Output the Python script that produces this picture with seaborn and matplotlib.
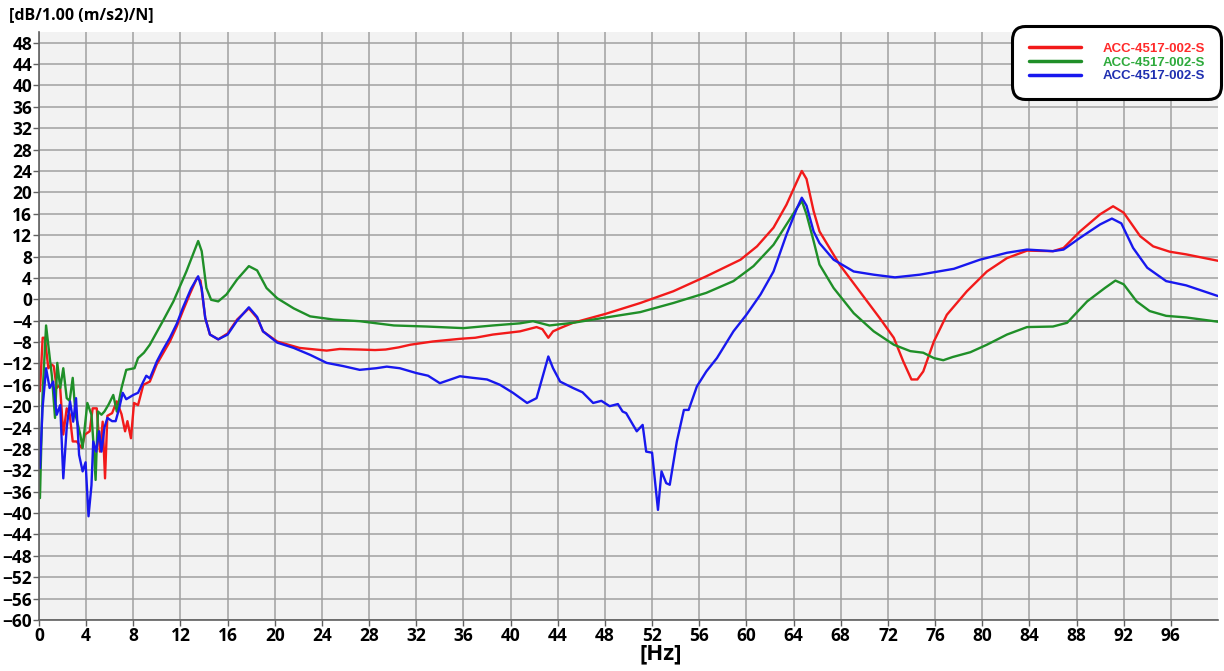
import numpy as np
import pandas as pd
import seaborn as sns
import matplotlib.pyplot as plt

# frequency response
red_hz = [0.08, 0.31, 0.5, 0.79, 1.07, 1.25, 1.5, 1.78, 2.06, 2.35, 2.6, 2.86, 3.2, 3.62, 3.9, 4.3, 4.55, 4.9,
          5.17, 5.4, 5.6, 5.8, 6.2, 6.59, 7.0, 7.3, 7.5, 7.8, 8.06, 8.4, 8.85, 9.4, 9.98, 10.5, 11.1, 11.7,
          12.2, 12.8, 13.4, 13.7, 14.1, 14.5, 15.2, 16.0, 16.8, 17.8, 18.5, 19.0, 20.2, 21.3, 22.1, 23.0,
          24.4, 25.5, 27.2, 28.5, 29.4, 30.5, 31.5, 33.4, 35.7, 37.0, 38.5, 40.8, 42.2, 42.7, 43.2, 43.6,
          44.2, 45.3, 48.1, 51.0, 53.8, 56.6, 59.5, 60.9, 62.3, 63.4, 64.3, 64.7, 65.1, 65.7, 66.2, 67.9,
          69.6, 71.3, 72.5, 73.3, 74.0, 74.5, 75.0, 75.9, 77.0, 78.7, 80.4, 82.1, 83.8, 86.0, 86.9, 88.3,
          90.0, 91.1, 92.0, 93.4, 94.5, 95.9, 97.3, 100]
red_db = [-17.2, -7.2, -7.2, -12.9, -12.2, -12.5, -16.6, -16.0, -25.3, -20.4, -21.5, -26.6, -26.6, -27.8, -25.3,
          -24.7, -20.4, -20.4, -28.5, -22.9, -33.5, -21.8, -21.3, -19.1, -21.5, -24.7, -22.8, -26.0, -19.4,
          -19.8, -16.0, -15.4, -12.2, -10.2, -7.9, -5.0, -2.2, 1.0, 4.0, 3.5, -3.5, -6.6, -7.5, -6.4, -3.8,
          -1.7, -3.5, -6.0, -7.9, -8.6, -9.1, -9.3, -9.6, -9.3, -9.4, -9.5, -9.4, -9.0, -8.5, -7.9, -7.4,
          -7.2, -6.6, -6.0, -5.2, -5.6, -7.2, -6.0, -5.4, -4.4, -2.7, -0.7, 1.5, 4.3, 7.4, 9.9, 13.4, 17.7,
          22.1, 24.0, 22.5, 16.5, 12.7, 6.5, 1.5, -3.5, -7.2, -11.6, -15.0, -15.0, -13.5, -7.9, -2.9, 1.5,
          5.2, 7.7, 9.1, 9.0, 9.6, 12.7, 15.9, 17.4, 16.2, 11.8, 9.9, 8.9, 8.4, 7.2]

green_hz = [0.08, 0.3, 0.6, 0.9, 1.1, 1.36, 1.55, 1.8, 2.06, 2.35, 2.6, 2.86, 3.1, 3.5, 3.7, 4.1, 4.45, 4.65,
            4.8, 5.0, 5.3, 5.55, 5.9, 6.3, 6.6, 7.0, 7.4, 8.1, 8.4, 8.9, 9.4, 10.5, 11.4, 12.5, 13.5, 13.8,
            14.2, 14.6, 15.2, 15.9, 16.8, 17.8, 18.5, 19.3, 20.2, 21.6, 23.0, 25.0, 27.2, 30.1, 32.9, 36.0,
            38.5, 40.8, 41.9, 43.3, 45.3, 48.1, 51.0, 53.8, 56.6, 58.9, 60.6, 62.3, 63.4, 64.3, 64.7, 65.1,
            65.7, 66.2, 67.4, 69.1, 70.8, 72.5, 73.9, 75.0, 75.9, 76.7, 77.5, 79.0, 80.4, 82.1, 83.8, 86.0,
            87.2, 88.9, 90.4, 91.3, 92.0, 93.1, 94.2, 95.6, 97.3, 100]
green_db = [-37.2, -18.0, -4.9, -10.7, -14.5, -22.2, -11.9, -16.6, -12.9, -18.5, -19.0, -14.7, -21.6, -25.3,
            -27.8, -19.4, -21.6, -28.0, -33.8, -21.0, -21.6, -21.0, -19.7, -17.9, -21.0, -16.6, -13.2, -12.9,
            -11.0, -10.0, -8.5, -4.1, -0.4, 5.2, 10.9, 9.0, 2.1, -0.1, -0.4, 0.9, 3.7, 6.2, 5.4, 2.1, 0.2,
            -1.7, -3.2, -3.8, -4.1, -4.9, -5.1, -5.4, -4.9, -4.5, -4.1, -4.9, -4.4, -3.4, -2.4, -0.7, 1.2,
            3.4, 6.2, 10.2, 14.0, 17.1, 18.4, 15.9, 10.9, 6.5, 2.1, -2.6, -6.0, -8.5, -9.7, -10.0, -11.0,
            -11.4, -10.8, -9.9, -8.5, -6.6, -5.2, -5.1, -4.4, -0.4, 2.1, 3.5, 2.8, -0.4, -2.2, -3.1, -3.4, -4.2]

blue_hz = [0.08, 0.3, 0.6, 0.9, 1.2, 1.5, 1.8, 2.06, 2.35, 2.63, 2.9, 3.14, 3.4, 3.7, 3.95, 4.2, 4.45, 4.6,
           4.85, 5.1, 5.3, 5.55, 5.8, 6.2, 6.5, 6.8, 7.1, 7.4, 8.0, 8.4, 8.85, 9.1, 9.4, 10.0, 10.5, 11.1,
           11.7, 12.2, 12.9, 13.5, 13.8, 14.1, 14.5, 15.2, 16.0, 16.8, 17.8, 18.5, 19.0, 20.2, 21.6, 23.0,
           24.4, 25.8, 27.2, 28.6, 29.5, 30.6, 32.0, 33.0, 34.0, 35.7, 36.8, 38.0, 39.1, 40.2, 41.4, 42.2,
           42.6, 43.2, 43.6, 44.2, 45.3, 46.1, 47.0, 47.7, 48.4, 49.1, 49.5, 49.8, 50.7, 51.2, 51.5, 52.0,
           52.5, 52.8, 53.2, 53.5, 54.1, 54.7, 55.1, 55.8, 56.6, 57.5, 58.9, 60.0, 61.2, 62.3, 63.4, 64.3,
           64.7, 65.1, 65.7, 66.2, 67.4, 69.1, 70.8, 72.6, 74.7, 77.6, 79.8, 82.1, 83.8, 86.0, 86.9, 88.3,
           90.0, 91.0, 91.8, 92.8, 94.0, 95.6, 97.3, 100]
blue_db = [-31.6, -20.4, -12.9, -16.6, -15.4, -21.6, -19.8, -33.5, -24.0, -19.1, -22.9, -18.5, -29.1, -32.2,
           -30.5, -40.6, -34.8, -26.6, -28.5, -24.7, -28.5, -24.0, -22.2, -22.8, -22.8, -20.4, -17.5, -18.7,
           -17.9, -17.5, -15.4, -14.3, -14.8, -11.6, -9.5, -7.2, -4.5, -1.6, 2.0, 4.3, 2.0, -3.5, -6.6, -7.5,
           -6.6, -4.0, -1.5, -3.3, -6.0, -8.1, -9.1, -10.4, -11.9, -12.5, -13.2, -12.9, -12.6, -12.9, -13.8,
           -14.3, -15.7, -14.4, -14.7, -15.0, -16.0, -17.5, -19.4, -18.5, -15.4, -10.7, -12.9, -15.4, -16.6,
           -17.4, -19.4, -19.0, -20.0, -19.6, -21.0, -21.3, -24.7, -23.5, -28.5, -28.7, -39.4, -32.2, -34.4,
           -34.7, -26.6, -20.7, -20.7, -16.3, -13.5, -11.0, -6.0, -2.9, 0.9, 5.2, 12.1, 17.1, 19.0, 17.5,
           12.7, 10.5, 7.4, 5.2, 4.6, 4.1, 4.6, 5.7, 7.4, 8.7, 9.3, 9.0, 9.3, 11.5, 14.0, 15.1, 14.2, 9.6,
           5.9, 3.4, 2.6, 0.6]

series_label = 'ACC-4517-002-S'
x_ticks = list(range(0, 100, 4))
y_ticks = list(range(-60, 52, 4))

sns.set_theme(style='whitegrid', rc={
    'axes.facecolor': '#f2f2f2',
    'grid.color': '#a0a0a0',
    'grid.linewidth': 1.1,
    'axes.edgecolor': '#606060',
})
plt.rcParams['font.family'] = ['Open Sans', 'DejaVu Sans']

fig = plt.figure(figsize=(12.24, 6.71), dpi=100)
ax = fig.add_axes([39 / 1224, 1 - 620 / 671, (1218 - 39) / 1224, (620 - 32) / 671])

curves = [(red_hz, red_db, '#f21a1a', '#ff2a2a'),
          (green_hz, green_db, '#1f8f28', '#2eaa3c'),
          (blue_hz, blue_db, '#1818ee', '#1f2fb0')]
for hz, db, col, _ in curves:
    df = pd.DataFrame({'Hz': hz, 'dB': db})
    sns.lineplot(data=df, x='Hz', y='dB', ax=ax, color=col, linewidth=1.7,
                 estimator=None, sort=False, label=series_label)

# 濃いめの -4 dB 線
ax.axhline(-4, color='#6e6e6e', linewidth=1.2, zorder=1)

ax.set_xlim(0, 100)
ax.set_ylim(-60, 50)
ax.set_xticks(x_ticks)
ax.set_yticks(y_ticks)
ax.set_xlabel('')
ax.set_ylabel('')
ax.tick_params(axis='both', which='major', labelsize=12.5, length=4, width=1, color='#606060', pad=1,
               left=True, bottom=True, labelcolor='black')
for lab in ax.get_xticklabels() + ax.get_yticklabels():
    lab.set_fontweight('bold')
for side in ['top', 'right']:
    ax.spines[side].set_visible(False)
ax.spines['left'].set_linewidth(1.2)
ax.spines['bottom'].set_linewidth(1.2)

fig.text(0.007, 0.978, '[dB/1.00 (m/s2)/N]', fontsize=11.5, fontweight='bold', va='center', ha='left',
         color='black')
fig.text(0.54, 0.025, '[Hz]', fontsize=16, fontweight='bold', va='center', ha='center', color='black')

# 凡例の設定
leg = ax.legend(loc='upper right', bbox_to_anchor=(1.0, 1.004), borderaxespad=0,
                prop={'family': 'Liberation Sans', 'weight': 'bold', 'size': 9.5},
                handlelength=4.0, handletextpad=1.6, labelspacing=0.1,
                borderpad=1.0, frameon=True, fancybox=True, framealpha=1)
leg.get_frame().set_facecolor('white')
leg.get_frame().set_edgecolor('black')
leg.get_frame().set_linewidth(2.2)
leg.get_frame().set_boxstyle('round', pad=0.25, rounding_size=1.0)
for txt, (_, _, _, tcol) in zip(leg.get_texts(), curves):
    txt.set_color(tcol)
for line in leg.get_lines():
    line.set_linewidth(2.5)

fig.savefig('out.png', dpi=100)
